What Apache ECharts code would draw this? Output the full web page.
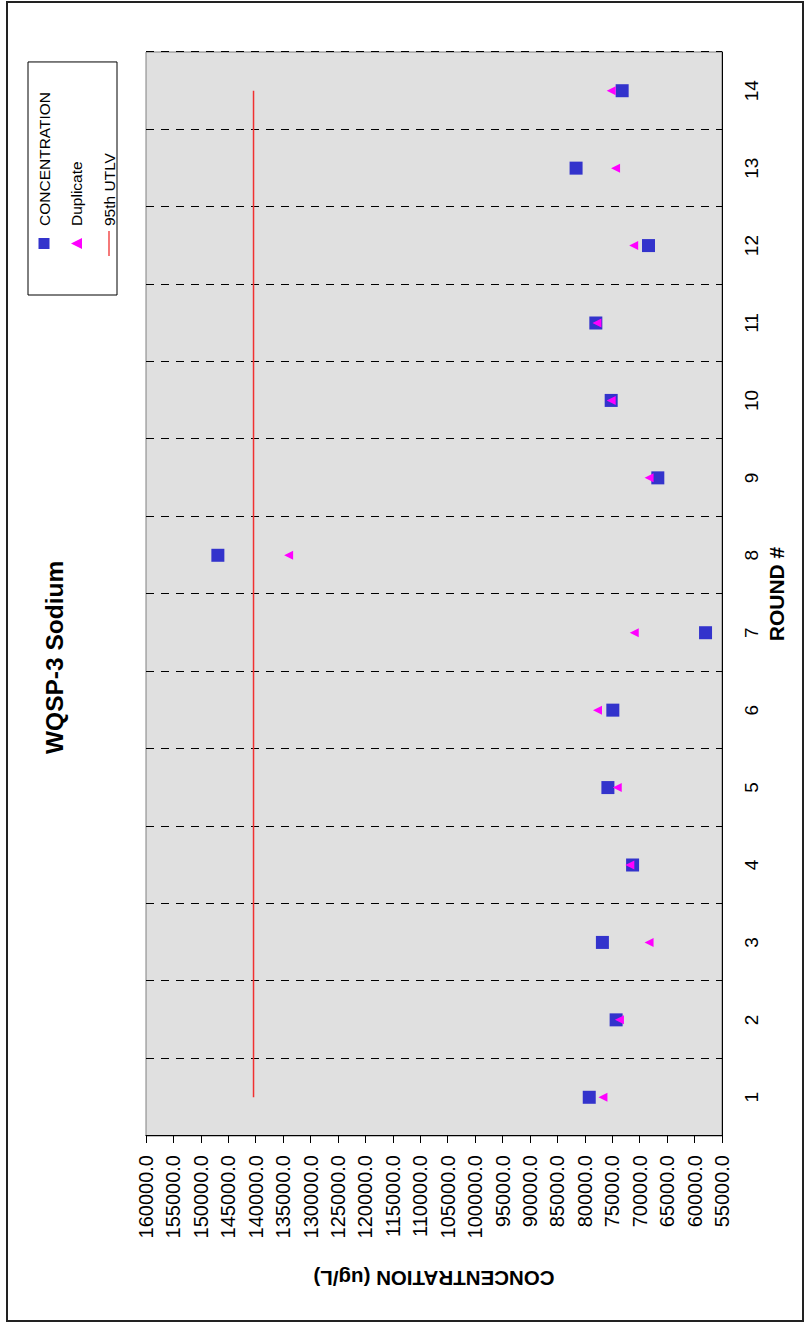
<!DOCTYPE html>
<html>
<head>
<meta charset="utf-8">
<script src="https://cdn.jsdelivr.net/npm/echarts@6/dist/echarts.min.js"></script>
<style>
  html, body { margin: 0; padding: 0; background: #ffffff; overflow: hidden; width: 805px; height: 1323px; }
  #frame { position: absolute; left: 6px; top: 1px; width: 794px; height: 1317px; border: 2px solid #222; }
  #chart { position: absolute; left: 0; top: 0; width: 1323px; height: 805px;
           transform-origin: 0 0; transform: translateY(1323px) rotate(-90deg); }
</style>
</head>
<body>
<div id="frame"></div>
<div id="chart"></div>
<script>
// Data
const rounds = ['1', '2', '3', '4', '5', '6', '7', '8', '9', '10', '11', '12', '13', '14'];
const concentration = [79200, 74300, 76800, 71300, 75800, 74900, 58000, 146900, 66700, 75200, 78000, 68400, 81600, 73200];
const duplicate = [76700, 73700, 68300, 71800, 74100, 77700, 71000, 134000, 68300, 75200, 77800, 71100, 74400, 75200];
const utlv95 = [140400, 140400, 140400, 140400, 140400, 140400, 140400, 140400, 140400, 140400, 140400, 140400, 140400, 140400];
const seriesNames = ['CONCENTRATION', 'Duplicate', '95th UTLV'];
const chartTitle = 'WQSP-3 Sodium';
const xAxisName = 'ROUND #';
const yAxisName = 'CONCENTRATION (ug/L)';

const FONT = "'Liberation Sans', Arial, sans-serif";
const BLUE = '#3333cc', MAGENTA = '#ff00ff', RED = '#f03030';
const chart = echarts.init(document.getElementById('chart'), null, { renderer: 'svg', width: 1323, height: 805 });

chart.setOption({
  animation: false,
  backgroundColor: 'transparent',
  title: {
    text: chartTitle,
    left: 564,
    top: 37,
    textStyle: { fontFamily: FONT, fontSize: 24.5, fontWeight: 'bold', color: '#000' }
  },
  legend: {
    orient: 'vertical',
    left: 1028,
    top: 28,
    padding: [8, 30, 0, 39],
    itemWidth: 25,
    itemHeight: 11,
    itemGap: 16.5,
    symbolKeepAspect: true,
    backgroundColor: '#fff',
    borderColor: '#000',
    borderWidth: 1,
    textStyle: { fontFamily: FONT, fontSize: 15.5, color: '#000' },
    data: [
      { name: seriesNames[0], icon: 'path://M0,0H10V10H0Z', itemStyle: { color: BLUE, opacity: 1 } },
      { name: seriesNames[1], icon: 'path://M4,1L8,9H0Z', itemStyle: { color: MAGENTA, opacity: 1 } },
      { name: seriesNames[2], icon: 'path://M0,0H270V14H0Z', itemStyle: { color: RED, opacity: 1 } }
    ]
  },
  grid: {
    show: true,
    left: 187,
    right: 52,
    top: 146,
    bottom: 83,
    backgroundColor: '#e0e0e0',
    borderColor: '#808080',
    borderWidth: 1
  },
  xAxis: {
    type: 'category',
    data: rounds,
    boundaryGap: true,
    name: xAxisName,
    nameLocation: 'middle',
    nameGap: 37,
    nameTextStyle: { fontFamily: FONT, fontSize: 21, fontWeight: 'bold', color: '#000' },
    axisLine: { show: true, lineStyle: { color: '#000', width: 1 } },
    axisTick: { show: false },
    axisLabel: { fontFamily: FONT, fontSize: 19, color: '#000', margin: 20 },
    splitLine: { show: true, lineStyle: { color: '#000', width: 1, type: [8, 7] } }
  },
  yAxis: {
    type: 'value',
    min: 55000,
    max: 160000,
    interval: 5000,
    name: yAxisName,
    nameLocation: 'middle',
    nameRotate: 90,
    nameGap: 132,
    nameTextStyle: { fontFamily: FONT, fontSize: 20.5, fontWeight: 'bold', color: '#000' },
    axisLine: { show: true, lineStyle: { color: '#000', width: 1 } },
    axisTick: { show: true, length: 7, lineStyle: { color: '#000' } },
    axisLabel: { fontFamily: FONT, fontSize: 20, color: '#000', margin: 19,
                 formatter: v => v.toFixed(1) },
    splitLine: { show: false }
  },
  series: [
    {
      name: seriesNames[0],
      type: 'scatter',
      symbol: 'rect',
      symbolSize: 13,
      itemStyle: { color: BLUE, opacity: 1 },
      data: concentration,
      z: 2
    },
    {
      name: seriesNames[1],
      type: 'scatter',
      symbol: 'triangle',
      symbolSize: 9,
      itemStyle: { color: MAGENTA, opacity: 1 },
      data: duplicate,
      z: 3
    },
    {
      name: seriesNames[2],
      type: 'line',
      symbol: 'none',
      showSymbol: false,
      lineStyle: { color: RED, width: 1.5 },
      itemStyle: { color: RED },
      data: utlv95,
      z: 4
    }
  ]
});
</script>
</body>
</html>
